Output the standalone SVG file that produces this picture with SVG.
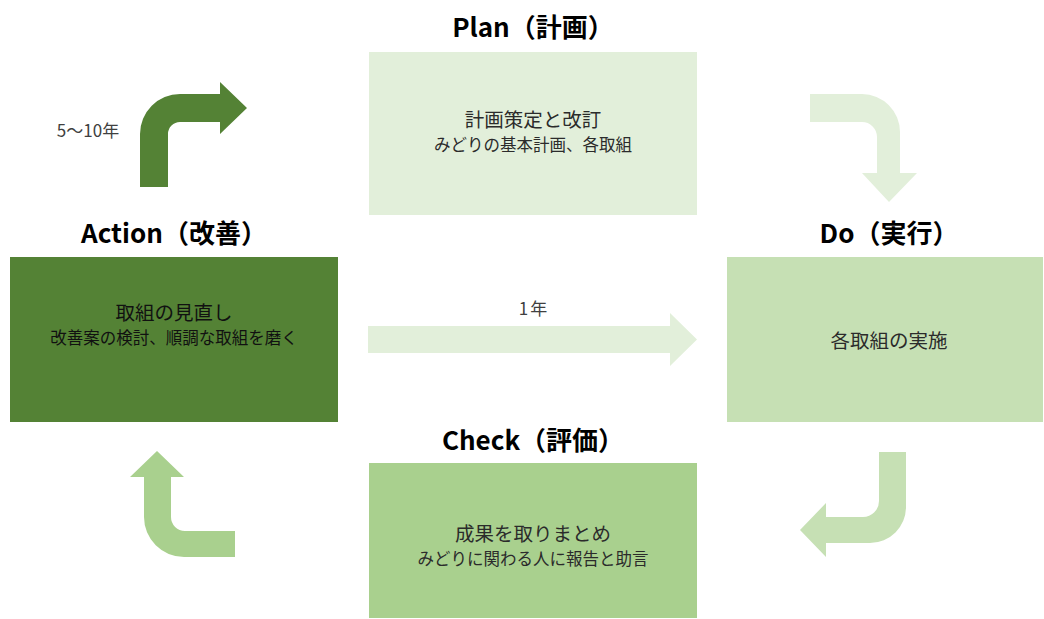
<svg xmlns="http://www.w3.org/2000/svg" width="1044" height="619" viewBox="0 0 1044 619">
<style>
text{font-family:"Noto Sans CJK JP","Noto Sans",sans-serif;text-anchor:middle;fill:#2b2b2b}
.title{font-size:26px;font-weight:bold;fill:#000}
.main{font-size:19.5px}
.sub{font-size:16.5px}
.lbl{font-size:17px;fill:#404040}
.dk{fill:#111}
</style>
<rect width="1044" height="619" fill="#fff"/>
<g id="connectors">
<path id="arrow-action-plan" d="M140,187 L140,134 A40,40 0 0 1 180,94 L220,94 L220,82 L247,108 L220,134 L220,122 L180,122 A12,12 0 0 0 168,134 L168,187 Z" fill="#548235"/>
<path id="arrow-plan-do" d="M810,94 L862,94 A38,38 0 0 1 900,132 L900,173 L917,173 L889,202 L862,173 L877,173 L877,137 A15,15 0 0 0 862,122 L810,122 Z" fill="#E2EFDA"/>
<path id="arrow-do-check" d="M879,452 L906,452 L906,507 A36,36 0 0 1 870,543 L826,543 L826,557 L800,530 L826,503 L826,517 L863,517 A16,16 0 0 0 879,501 Z" fill="#C6E0B4"/>
<path id="arrow-check-action" d="M235,531 L185,531 A14,14 0 0 1 171,517 L171,477 L184,477 L157,451 L130,477 L144,477 L144,517 A40,40 0 0 0 184,557 L235,557 Z" fill="#A9D08E"/>
<path id="arrow-action-do" d="M368,326 L670,326 L670,313 L697,339.5 L670,366 L670,353 L368,353 Z" fill="#E2EFDA"/>
<text class="lbl" x="88" y="137">5～10年</text>
<text class="lbl" x="534" y="315" letter-spacing="2">1年</text>
</g>
<g id="plan">
<text class="title" x="533" y="37">Plan（計画）</text>
<rect x="369" y="52" width="328" height="163" fill="#E2EFDA"/>
<text class="main" x="533" y="127">計画策定と改訂</text>
<text class="sub" x="533" y="151">みどりの基本計画、各取組</text>
</g>
<g id="action">
<text class="title" x="174" y="243">Action（改善）</text>
<rect x="10" y="257" width="328" height="165" fill="#548235"/>
<text class="main dk" x="174" y="320">取組の見直し</text>
<text class="sub dk" x="174" y="344">改善案の検討、順調な取組を磨く</text>
</g>
<g id="do">
<text class="title" x="889" y="243">Do（実行）</text>
<rect x="727" y="257" width="316" height="165" fill="#C6E0B4"/>
<text class="main" x="889" y="347.5">各取組の実施</text>
</g>
<g id="check">
<text class="title" x="533" y="450">Check（評価）</text>
<rect x="369" y="463" width="328" height="155" fill="#A9D08E"/>
<text class="main" x="533" y="541">成果を取りまとめ</text>
<text class="sub" x="533" y="565">みどりに関わる人に報告と助言</text>
</g>
</svg>
